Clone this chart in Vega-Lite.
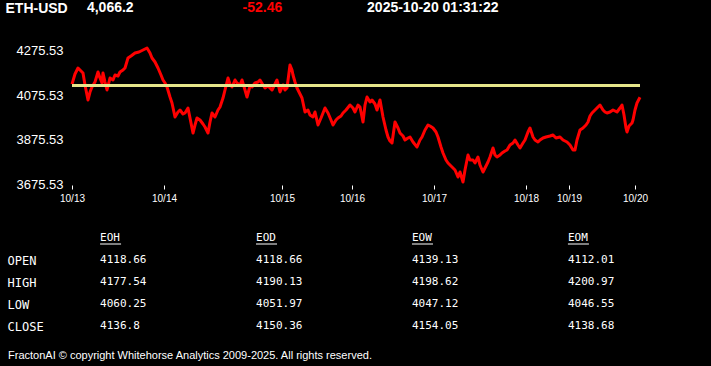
{
  "$schema": "https://vega.github.io/schema/vega-lite/v6.json",
  "background": "black",
  "autosize": {"type": "pad"},
  "padding": {"left": 5, "top": 0, "right": 71, "bottom": 5},
  "spacing": 24,
  "config": {"view": {"stroke": null}, "font": "Liberation Sans"},
  "title": {
    "text": "FractonAI © copyright Whitehorse Analytics 2009-2025. All rights reserved.",
    "orient": "bottom", "anchor": "start", "color": "white", "fontSize": 11,
    "fontWeight": "normal", "font": "Liberation Sans", "offset": 13, "baseline": "top", "dx": 3
  },
  "datasets": {
    "header": [
      {"symbol": "ETH-USD", "item": "last", "text": "4,066.2"},
      {"symbol": "ETH-USD", "item": "change", "text": "-52.46"},
      {"symbol": "ETH-USD", "item": "time", "text": "2025-10-20 01:31:22"}
    ],
    "eth": [
      {"t": 0, "price": 4125.0}, {"t": 3, "price": 4170.3}, {"t": 6, "price": 4197.2}, {"t": 8, "price": 4188.2},
      {"t": 11, "price": 4174.8}, {"t": 13, "price": 4121.1}, {"t": 16, "price": 4053.9}, {"t": 18, "price": 4089.7},
      {"t": 20, "price": 4112.1}, {"t": 23, "price": 4134.5}, {"t": 26, "price": 4179.3}, {"t": 28, "price": 4152.4},
      {"t": 30, "price": 4130.0}, {"t": 31, "price": 4174.8}, {"t": 33, "price": 4134.5}, {"t": 35, "price": 4098.7},
      {"t": 38, "price": 4152.4}, {"t": 41, "price": 4143.5}, {"t": 43, "price": 4165.8}, {"t": 46, "price": 4161.4},
      {"t": 48, "price": 4179.3}, {"t": 51, "price": 4188.2}, {"t": 53, "price": 4197.2}, {"t": 56, "price": 4242.0},
      {"t": 59, "price": 4250.9}, {"t": 63, "price": 4264.4}, {"t": 67, "price": 4268.9}, {"t": 71, "price": 4277.8},
      {"t": 75, "price": 4286.8}, {"t": 78, "price": 4264.4}, {"t": 80, "price": 4242.0}, {"t": 83, "price": 4224.1},
      {"t": 86, "price": 4197.2}, {"t": 89, "price": 4165.8}, {"t": 91, "price": 4143.5}, {"t": 93, "price": 4130.0},
      {"t": 95, "price": 4112.1}, {"t": 98, "price": 4067.3}, {"t": 100, "price": 4040.5}, {"t": 103, "price": 3977.8},
      {"t": 106, "price": 4000.2}, {"t": 108, "price": 4009.1}, {"t": 111, "price": 3991.2}, {"t": 113, "price": 3995.7},
      {"t": 116, "price": 4018.1}, {"t": 118, "price": 3973.3}, {"t": 121, "price": 3906.1}, {"t": 123, "price": 3941.9},
      {"t": 125, "price": 3973.3}, {"t": 128, "price": 3964.3}, {"t": 131, "price": 3946.4}, {"t": 133, "price": 3933.0},
      {"t": 136, "price": 3906.1}, {"t": 138, "price": 3955.4}, {"t": 140, "price": 3995.7}, {"t": 143, "price": 3977.8},
      {"t": 146, "price": 4009.1}, {"t": 148, "price": 4022.5}, {"t": 151, "price": 4062.8}, {"t": 153, "price": 4098.7},
      {"t": 156, "price": 4152.4}, {"t": 158, "price": 4125.5}, {"t": 160, "price": 4112.1}, {"t": 163, "price": 4143.5},
      {"t": 165, "price": 4130.0}, {"t": 168, "price": 4121.1}, {"t": 170, "price": 4143.5}, {"t": 173, "price": 4098.7},
      {"t": 175, "price": 4067.3}, {"t": 178, "price": 4116.6}, {"t": 180, "price": 4112.1}, {"t": 183, "price": 4130.0},
      {"t": 186, "price": 4134.5}, {"t": 188, "price": 4143.5}, {"t": 191, "price": 4121.1}, {"t": 193, "price": 4107.6},
      {"t": 196, "price": 4116.6}, {"t": 200, "price": 4098.7}, {"t": 203, "price": 4125.5}, {"t": 205, "price": 4143.5},
      {"t": 208, "price": 4089.7}, {"t": 211, "price": 4121.1}, {"t": 213, "price": 4098.7}, {"t": 215, "price": 4107.6},
      {"t": 218, "price": 4210.6}, {"t": 220, "price": 4188.2}, {"t": 221, "price": 4165.8}, {"t": 223, "price": 4134.5},
      {"t": 225, "price": 4107.6}, {"t": 228, "price": 4080.8}, {"t": 230, "price": 4062.8}, {"t": 233, "price": 4000.2},
      {"t": 236, "price": 4009.1}, {"t": 238, "price": 3986.7}, {"t": 241, "price": 3977.8}, {"t": 243, "price": 4000.2},
      {"t": 246, "price": 3941.9}, {"t": 249, "price": 3973.3}, {"t": 253, "price": 4018.1}, {"t": 256, "price": 3995.7},
      {"t": 259, "price": 3964.3}, {"t": 261, "price": 3941.9}, {"t": 264, "price": 3964.3}, {"t": 266, "price": 3973.3},
      {"t": 269, "price": 3982.2}, {"t": 271, "price": 3995.7}, {"t": 274, "price": 4009.1}, {"t": 278, "price": 4031.5},
      {"t": 281, "price": 4018.1}, {"t": 283, "price": 4000.2}, {"t": 286, "price": 4031.5}, {"t": 288, "price": 4022.5},
      {"t": 291, "price": 3955.4}, {"t": 293, "price": 4031.5}, {"t": 295, "price": 4067.3}, {"t": 298, "price": 4044.9},
      {"t": 300, "price": 4053.9}, {"t": 303, "price": 4036.0}, {"t": 305, "price": 4009.1}, {"t": 308, "price": 4053.9},
      {"t": 311, "price": 3977.8}, {"t": 314, "price": 3919.6}, {"t": 316, "price": 3888.2}, {"t": 318, "price": 3870.3},
      {"t": 320, "price": 3861.3}, {"t": 323, "price": 3955.4}, {"t": 326, "price": 3928.5}, {"t": 328, "price": 3906.1},
      {"t": 331, "price": 3892.7}, {"t": 333, "price": 3874.8}, {"t": 336, "price": 3883.7}, {"t": 338, "price": 3888.2},
      {"t": 341, "price": 3865.8}, {"t": 345, "price": 3843.4}, {"t": 348, "price": 3874.8}, {"t": 350, "price": 3888.2},
      {"t": 353, "price": 3919.6}, {"t": 356, "price": 3941.9}, {"t": 358, "price": 3937.5}, {"t": 361, "price": 3928.5},
      {"t": 364, "price": 3910.6}, {"t": 366, "price": 3888.2}, {"t": 369, "price": 3843.4}, {"t": 371, "price": 3816.6},
      {"t": 374, "price": 3785.2}, {"t": 376, "price": 3771.8}, {"t": 378, "price": 3762.8}, {"t": 380, "price": 3753.9},
      {"t": 383, "price": 3740.4}, {"t": 386, "price": 3709.1}, {"t": 388, "price": 3731.5}, {"t": 391, "price": 3686.7},
      {"t": 393, "price": 3740.4}, {"t": 396, "price": 3807.6}, {"t": 398, "price": 3785.2}, {"t": 401, "price": 3785.2},
      {"t": 403, "price": 3771.8}, {"t": 406, "price": 3798.6}, {"t": 408, "price": 3762.8}, {"t": 411, "price": 3731.5},
      {"t": 413, "price": 3749.4}, {"t": 416, "price": 3776.3}, {"t": 418, "price": 3798.6}, {"t": 421, "price": 3838.9},
      {"t": 423, "price": 3807.6}, {"t": 425, "price": 3798.6}, {"t": 428, "price": 3807.6}, {"t": 430, "price": 3816.6},
      {"t": 433, "price": 3825.5}, {"t": 435, "price": 3830.0}, {"t": 438, "price": 3852.4}, {"t": 441, "price": 3861.3},
      {"t": 443, "price": 3874.8}, {"t": 446, "price": 3852.4}, {"t": 448, "price": 3838.9}, {"t": 451, "price": 3861.3},
      {"t": 453, "price": 3874.8}, {"t": 456, "price": 3910.6}, {"t": 458, "price": 3928.5}, {"t": 461, "price": 3888.2},
      {"t": 463, "price": 3874.8}, {"t": 466, "price": 3865.8}, {"t": 468, "price": 3874.8}, {"t": 471, "price": 3883.7},
      {"t": 474, "price": 3888.2}, {"t": 478, "price": 3892.7}, {"t": 481, "price": 3897.2}, {"t": 484, "price": 3883.7},
      {"t": 488, "price": 3888.2}, {"t": 491, "price": 3874.8}, {"t": 493, "price": 3870.3}, {"t": 495, "price": 3865.8},
      {"t": 498, "price": 3852.4}, {"t": 501, "price": 3830.0}, {"t": 503, "price": 3830.0}, {"t": 505, "price": 3874.8},
      {"t": 508, "price": 3919.6}, {"t": 511, "price": 3928.5}, {"t": 514, "price": 3941.9}, {"t": 516, "price": 3955.4},
      {"t": 518, "price": 3982.2}, {"t": 520, "price": 3995.7}, {"t": 523, "price": 4009.1}, {"t": 525, "price": 4018.1},
      {"t": 528, "price": 4031.5}, {"t": 531, "price": 4009.1}, {"t": 533, "price": 4000.2}, {"t": 535, "price": 3995.7},
      {"t": 538, "price": 4000.2}, {"t": 541, "price": 4009.1}, {"t": 545, "price": 4000.2}, {"t": 548, "price": 4018.1},
      {"t": 550, "price": 4031.5}, {"t": 552, "price": 3986.7}, {"t": 554, "price": 3928.5}, {"t": 555, "price": 3910.6},
      {"t": 557, "price": 3937.5}, {"t": 560, "price": 3950.9}, {"t": 561, "price": 3964.3}, {"t": 563, "price": 4009.1},
      {"t": 565, "price": 4040.5}, {"t": 568, "price": 4066.2}
    ],
    "ref": [{"level": 4118.66}],
    "periods": [{"period": "EOH"}, {"period": "EOD"}, {"period": "EOW"}, {"period": "EOM"}],
    "ohlc": [
      {"row": "OPEN", "period": "EOH", "value": 4118.66}, {"row": "OPEN", "period": "EOD", "value": 4118.66},
      {"row": "OPEN", "period": "EOW", "value": 4139.13}, {"row": "OPEN", "period": "EOM", "value": 4112.01},
      {"row": "HIGH", "period": "EOH", "value": 4177.54}, {"row": "HIGH", "period": "EOD", "value": 4190.13},
      {"row": "HIGH", "period": "EOW", "value": 4198.62}, {"row": "HIGH", "period": "EOM", "value": 4200.97},
      {"row": "LOW", "period": "EOH", "value": 4060.25}, {"row": "LOW", "period": "EOD", "value": 4051.97},
      {"row": "LOW", "period": "EOW", "value": 4047.12}, {"row": "LOW", "period": "EOM", "value": 4046.55},
      {"row": "CLOSE", "period": "EOH", "value": 4136.8}, {"row": "CLOSE", "period": "EOD", "value": 4150.36},
      {"row": "CLOSE", "period": "EOW", "value": 4154.05}, {"row": "CLOSE", "period": "EOM", "value": 4138.68}
    ]
  },
  "vconcat": [
    {
      "width": 310, "height": 16,
      "data": {"name": "header"},
      "mark": {"type": "text", "align": "left", "baseline": "middle", "font": "Liberation Sans", "fontSize": 14, "fontWeight": "bold"},
      "encoding": {
        "x": {"field": "item", "type": "nominal",
              "scale": {"type": "point", "domain": ["last", "g1", "g2", "g3", "g4", "change", "g5", "g6", "g7", "time"], "padding": 0.48},
              "axis": null},
        "y": {"field": "symbol", "type": "nominal",
              "axis": {"title": null, "domain": false, "ticks": false, "tickSize": 0, "labelAlign": "left", "labelPadding": 67,
                       "labelFont": "Liberation Sans", "labelFontSize": 14, "labelFontWeight": "bold", "labelColor": "white", "labelBaseline": "middle"}},
        "text": {"field": "text", "type": "nominal"},
        "color": {"field": "item", "type": "nominal", "scale": {"domain": ["last", "change", "time"], "range": ["white", "#ff0000", "white"]}, "legend": null}
      }
    },
    {
      "width": 568, "height": 145,
      "layer": [
        {
          "data": {"name": "eth"},
          "mark": {"type": "line", "color": "#ff0000", "strokeWidth": 3, "strokeJoin": "round"},
          "encoding": {
            "x": {"field": "t", "type": "quantitative", "scale": {"domain": [0, 568], "nice": false, "zero": false},
                  "axis": {"title": null, "values": [0, 92, 210, 280, 362, 454, 497, 563],
                           "labelExpr": "['10/13','10/14','10/15','10/16','10/17','10/18','10/19','10/20'][indexof([0,92,210,280,362,454,497,563], datum.value)]",
                           "domain": false, "grid": false, "tickColor": "white", "tickSize": 4, "labelPadding": 4, "labelFlush": false, "labelOverlap": false,
                           "labelColor": "white", "labelFontSize": 10, "labelFont": "Liberation Sans"}},
            "y": {"field": "price", "type": "quantitative", "scale": {"domain": [3673.3, 4322.6], "nice": false, "zero": false},
                  "axis": {"title": null, "values": [3675.53, 3875.53, 4075.53, 4275.53], "format": ".2f", "domain": false, "ticks": false, "tickSize": 0,
                           "grid": false, "labelPadding": 9, "labelColor": "white", "labelFontSize": 13, "labelFont": "Liberation Sans"}}
          }
        },
        {
          "data": {"name": "ref"},
          "mark": {"type": "rule", "color": "#e6e68a", "strokeWidth": 3},
          "encoding": {"y": {"field": "level", "type": "quantitative"}}
        }
      ]
    },
    {
      "width": 524, "height": 110,
      "layer": [
        {
          "data": {"name": "ohlc"},
          "mark": {"type": "text", "align": "left", "baseline": "middle", "font": "DejaVu Sans Mono", "fontSize": 11, "color": "white"},
          "encoding": {
            "x": {"field": "period", "type": "nominal", "scale": {"type": "point", "domain": ["EOH", "EOD", "EOW", "EOM"], "padding": 0.18}, "axis": null},
            "y": {"field": "row", "type": "nominal", "scale": {"type": "point", "domain": ["hdr", "OPEN", "HIGH", "LOW", "CLOSE"], "padding": 0.5},
                  "axis": {"title": null, "domain": false, "ticks": false, "tickSize": 0, "labelAlign": "left", "labelPadding": 65,
                           "labelFont": "DejaVu Sans Mono", "labelFontSize": 12, "labelColor": "white",
                           "labelExpr": "datum.value == 'hdr' ? '' : datum.value"}},
            "text": {"field": "value", "type": "nominal"}
          }
        },
        {
          "data": {"name": "periods"},
          "mark": {"type": "text", "align": "left", "baseline": "middle", "font": "DejaVu Sans Mono", "fontSize": 11, "color": "white"},
          "encoding": {
            "x": {"field": "period", "type": "nominal"},
            "y": {"datum": "hdr", "type": "nominal"},
            "text": {"field": "period", "type": "nominal"}
          }
        },
        {
          "data": {"name": "periods"},
          "mark": {"type": "rule", "color": "white", "strokeWidth": 1, "x2Offset": 21, "yOffset": 6},
          "encoding": {
            "x": {"field": "period", "type": "nominal"},
            "x2": {"field": "period"},
            "y": {"datum": "hdr", "type": "nominal"}
          }
        }
      ]
    }
  ]
}
